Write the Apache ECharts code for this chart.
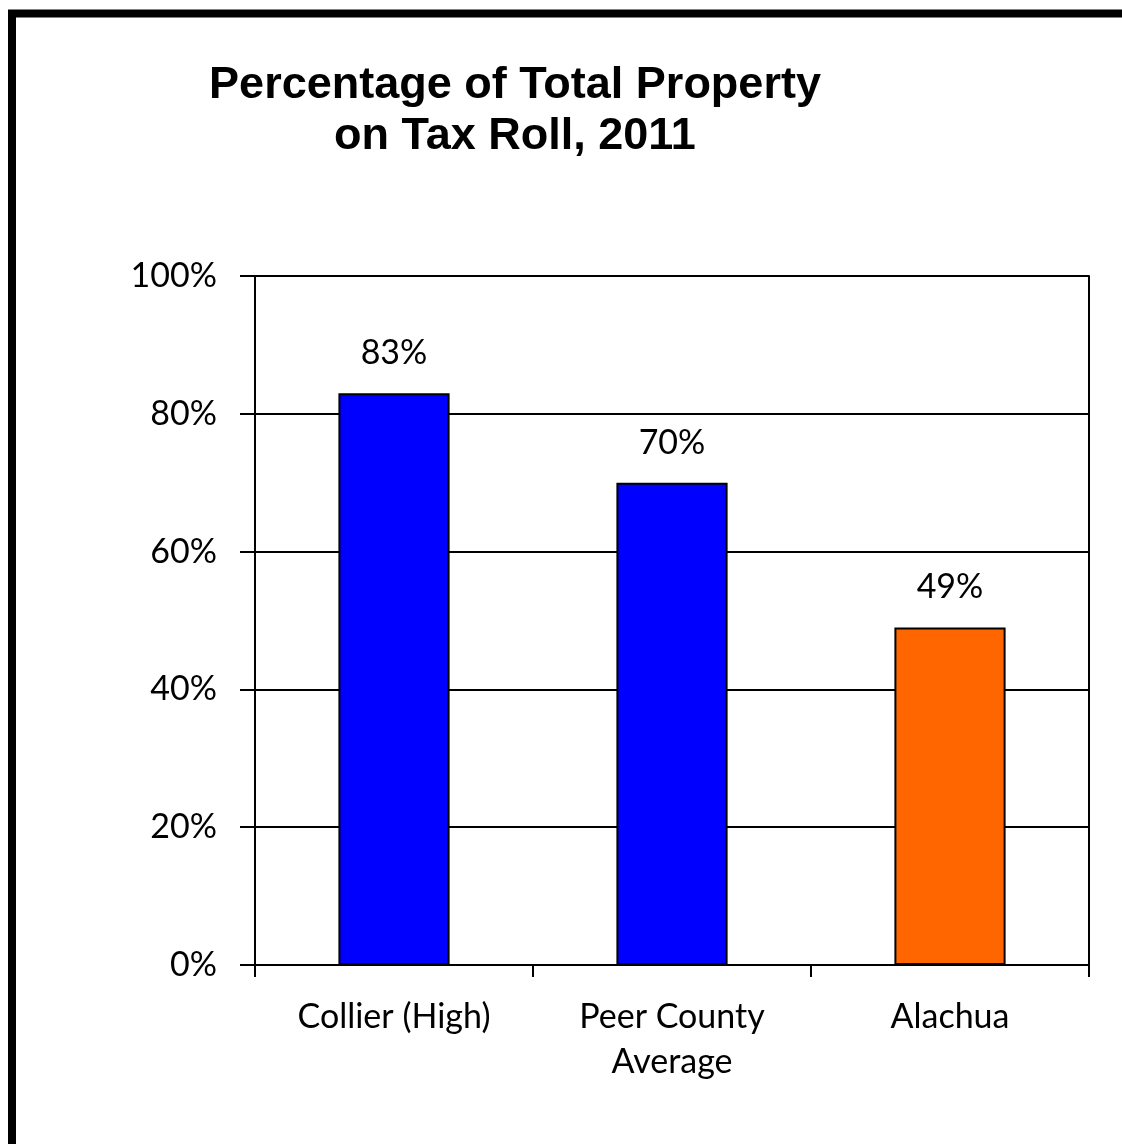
<!DOCTYPE html>
<html>
<head>
<meta charset="utf-8">
<script src="https://cdn.jsdelivr.net/npm/echarts@6/dist/echarts.min.js"></script>
<style>
html,body{margin:0;padding:0;background:#fff;}
#chart{width:1122px;height:1144px;}
</style>
</head>
<body>
<div id="chart"></div>
<script>
const titleText = 'Percentage of Total Property\non Tax Roll, 2011';
const categories = ['Collier (High)', 'Peer County\nAverage', 'Alachua'];
const values = [83, 70, 49];
const barColors = ['#0000FF', '#0000FF', '#FF6600'];
const yTicks = { min: 0, max: 100, interval: 20 };

const chart = echarts.init(document.getElementById('chart'));
const labelFont = 'Lato, "Open Sans", sans-serif';
chart.setOption({
  animation: false,
  backgroundColor: '#fff',
  graphic: [{
    type: 'rect',
    shape: { x: 12, y: 13.5, width: 1300, height: 1300 },
    style: { fill: 'none', stroke: '#000', lineWidth: 8 },
    silent: true
  }],
  title: {
    text: titleText,
    left: 510,
    top: 55,
    textAlign: 'center',
    textStyle: {
      fontFamily: '"Liberation Sans", Arial, sans-serif',
      fontWeight: 'bold',
      fontSize: 45,
      lineHeight: 51,
      color: '#000'
    }
  },
  grid: { left: 255, right: 33, top: 276, bottom: 179, containLabel: false },
  xAxis: {
    type: 'category',
    data: categories,
    axisLine: { lineStyle: { color: '#000', width: 2 } },
    axisTick: { show: true, length: 12, lineStyle: { color: '#000', width: 2 } },
    axisLabel: {
      color: '#000', fontFamily: labelFont, fontSize: 34, lineHeight: 45, margin: 30, interval: 0
    },
    splitLine: { show: false }
  },
  yAxis: [{
    type: 'value',
    min: yTicks.min, max: yTicks.max, interval: yTicks.interval,
    axisLine: { show: true, lineStyle: { color: '#000', width: 2 } },
    axisTick: { show: true, length: 15, lineStyle: { color: '#000', width: 2 } },
    axisLabel: {
      formatter: '{value}%', color: '#000', fontFamily: labelFont, fontSize: 34, margin: 38,
      padding: [16, 0, 0, 0]
    },
    splitLine: { show: true, lineStyle: { color: '#000', width: 2 } }
  }, {
    type: 'value',
    position: 'right',
    min: yTicks.min, max: yTicks.max, interval: yTicks.interval,
    axisLine: { show: true, lineStyle: { color: '#000', width: 2 } },
    axisTick: { show: false },
    axisLabel: { show: false },
    splitLine: { show: false }
  }],
  series: [{
    type: 'bar',
    barWidth: '40%',
    data: values.map((v, i) => ({
      value: v,
      itemStyle: { color: barColors[i], borderColor: '#000', borderWidth: 2 }
    })),
    label: {
      show: true, position: 'top', distance: 23,
      formatter: '{c}%', color: '#000', fontFamily: labelFont, fontSize: 34
    }
  }]
});
</script>
</body>
</html>
